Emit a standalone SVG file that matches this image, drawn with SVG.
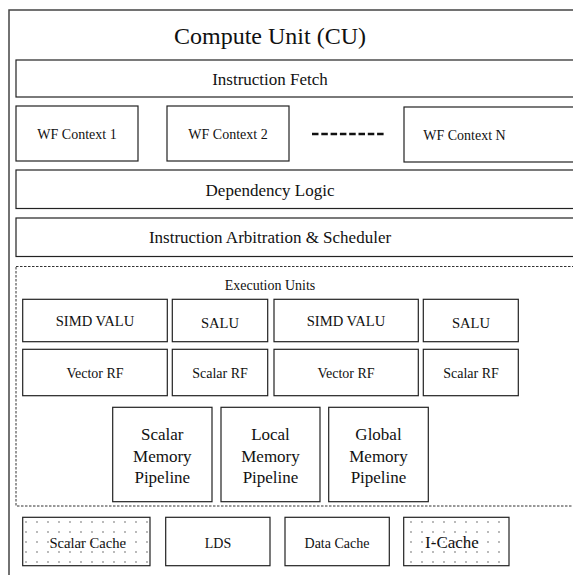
<svg xmlns="http://www.w3.org/2000/svg" width="573" height="575" viewBox="0 0 573 575">
<defs>
<pattern id="dots" x="0" y="0" width="11" height="10" patternUnits="userSpaceOnUse">
<circle cx="4" cy="2" r="0.9" fill="#9a9a9a"/>
</pattern>
</defs>
<style>
.box{fill:#fff;stroke:#222;stroke-width:1.2}
.dot{fill:url(#dots);stroke:#222;stroke-width:1.2}
text{font-family:"Liberation Serif","Times New Roman",serif;fill:#111;text-anchor:middle}
.t17{font-size:17px}
.t14{font-size:14px}
.t15{font-size:14.6px}
</style>
<rect width="573" height="575" fill="#fff"/>
<g id="cu">
<rect x="9" y="10" width="620" height="620" fill="none" stroke="#444" stroke-width="1.5"/>
<text x="270" y="44" style="font-size:24px">Compute Unit (CU)</text>
</g>
<g id="instruction-fetch">
<rect class="box" x="16" y="60" width="600" height="37"/>
<text class="t17" x="270" y="85">Instruction Fetch</text>
</g>
<g id="wf1">
<rect class="box" x="16" y="106" width="122" height="55"/>
<text class="t14" x="77" y="139">WF Context 1</text>
</g>
<g id="wf2">
<rect class="box" x="167" y="106" width="122" height="55"/>
<text class="t14" x="228" y="139">WF Context 2</text>
</g>
<g id="wf-dots">
<line x1="312" y1="134" x2="386" y2="134" stroke="#111" stroke-width="2.5" stroke-dasharray="6.5 2.8"/>
</g>
<g id="wfN">
<rect class="box" x="404" y="107" width="200" height="55"/>
<text class="t14" x="464.5" y="140">WF Context N</text>
</g>
<g id="dependency-logic">
<rect class="box" x="16" y="170" width="600" height="38.5"/>
<text class="t17" x="270" y="196">Dependency Logic</text>
</g>
<g id="arbitration">
<rect class="box" x="16" y="218" width="600" height="38.5"/>
<text class="t17" x="270" y="243">Instruction Arbitration &amp; Scheduler</text>
</g>
<g id="execution-units">
<rect x="16" y="266.5" width="600" height="239.5" fill="none" stroke="#333" stroke-width="1" stroke-dasharray="2.5 1.5"/>
<text class="t14" x="270" y="290">Execution Units</text>
</g>
<g id="simd1">
<rect class="box" x="22.7" y="299.3" width="144.6" height="42.4"/>
<text class="t15" x="95" y="326">SIMD VALU</text>
</g>
<g id="salu1">
<rect class="box" x="172.3" y="299.3" width="95.4" height="42.4"/>
<text class="t15" x="220" y="327.5">SALU</text>
</g>
<g id="simd2">
<rect class="box" x="274" y="299.3" width="144.3" height="42.4"/>
<text class="t15" x="346" y="326">SIMD VALU</text>
</g>
<g id="salu2">
<rect class="box" x="423.3" y="299.3" width="95" height="42.4"/>
<text class="t15" x="471" y="327.5">SALU</text>
</g>
<g id="vrf1">
<rect class="box" x="22.7" y="349.3" width="144.6" height="46.4"/>
<text class="t14" x="95" y="378">Vector RF</text>
</g>
<g id="srf1">
<rect class="box" x="172.3" y="349.3" width="95.4" height="46.4"/>
<text class="t14" x="220" y="378">Scalar RF</text>
</g>
<g id="vrf2">
<rect class="box" x="274" y="349.3" width="144.3" height="46.4"/>
<text class="t14" x="346" y="378">Vector RF</text>
</g>
<g id="srf2">
<rect class="box" x="423.3" y="349.3" width="95" height="46.4"/>
<text class="t14" x="471" y="378">Scalar RF</text>
</g>
<g id="scalar-mem">
<rect class="box" x="112.7" y="407.3" width="99.3" height="94.4"/>
<text class="t17" x="162.3" y="440">Scalar</text>
<text class="t17" x="162.3" y="461.5">Memory</text>
<text class="t17" x="162.3" y="483">Pipeline</text>
</g>
<g id="local-mem">
<rect class="box" x="221" y="407.3" width="99" height="94.4"/>
<text class="t17" x="270.5" y="440">Local</text>
<text class="t17" x="270.5" y="461.5">Memory</text>
<text class="t17" x="270.5" y="483">Pipeline</text>
</g>
<g id="global-mem">
<rect class="box" x="328.7" y="407.3" width="99.6" height="94.4"/>
<text class="t17" x="378.5" y="440">Global</text>
<text class="t17" x="378.5" y="461.5">Memory</text>
<text class="t17" x="378.5" y="483">Pipeline</text>
</g>
<g id="scalar-cache">
<rect class="dot" x="22.7" y="517.3" width="127.3" height="48.4"/>
<text class="t15" x="87.7" y="548.3">Scalar Cache</text>
</g>
<g id="lds">
<rect class="box" x="165.7" y="517.3" width="104.3" height="48.4"/>
<text class="t14" x="218" y="548.3">LDS</text>
</g>
<g id="data-cache">
<rect class="box" x="285" y="517.3" width="104.3" height="48.4"/>
<text class="t14" x="337" y="548.3">Data Cache</text>
</g>
<g id="i-cache">
<rect class="dot" x="403.7" y="517.3" width="105.3" height="48.4"/>
<text class="t17" x="452" y="548.3">I-Cache</text>
</g>
<g id="connectors"></g>
</svg>
